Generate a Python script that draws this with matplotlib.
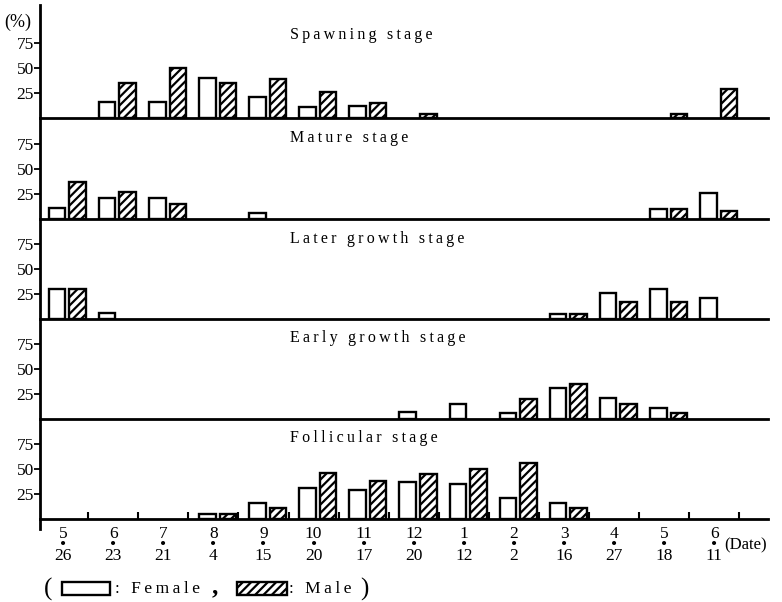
import numpy as np
import matplotlib
matplotlib.use("Agg")
import matplotlib.pyplot as plt
from matplotlib.patches import Rectangle

plt.rcParams['font.family'] = ['Liberation Serif', 'DejaVu Serif']
plt.rcParams['hatch.linewidth'] = 1.6

# sampling dates (month / day)
months = [5, 6, 7, 8, 9, 10, 11, 12, 1, 2, 3, 4, 5, 6]
days = [26, 23, 21, 4, 15, 20, 17, 20, 12, 2, 16, 27, 18, 11]

stages = ["Spawning stage", "Mature stage", "Later growth stage",
          "Early growth stage", "Follicular stage"]

# percentages per stage (female / male)
spawning_female = [0, 16, 16, 40, 21, 11, 12, 0, 0, 0, 0, 0, 0, 0]
spawning_male = [0, 35, 50, 35, 39, 26, 15, 4, 0, 0, 0, 0, 4, 29]
mature_female = [11, 21, 21, 0, 6, 0, 0, 0, 0, 0, 0, 0, 10, 26]
mature_male = [37, 27, 15, 0, 0, 0, 0, 0, 0, 0, 0, 0, 10, 8]
later_female = [30, 6, 0, 0, 0, 0, 0, 0, 0, 0, 5, 26, 30, 21]
later_male = [30, 0, 0, 0, 0, 0, 0, 0, 0, 0, 5, 17, 17, 0]
early_female = [0, 0, 0, 0, 0, 0, 0, 7, 15, 6, 31, 21, 11, 0]
early_male = [0, 0, 0, 0, 0, 0, 0, 0, 0, 20, 35, 15, 6, 0]
follicular_female = [0, 0, 0, 5, 16, 31, 29, 37, 35, 21, 16, 0, 0, 0]
follicular_male = [0, 0, 0, 5, 11, 46, 38, 45, 50, 56, 11, 0, 0, 0]

female = [spawning_female, mature_female, later_female, early_female, follicular_female]
male = [spawning_male, mature_male, later_male, early_male, follicular_male]

W, H = 782, 602
# panel extents in pixels (top, bottom)
panels_px = [(5, 118), (118, 219), (219, 319), (319, 419), (419, 519)]
title_y = [35, 138, 239, 338, 438]
AX_LEFT, AX_RIGHT = 40, 768


def spaced(s):
    # imitate the wide letter spacing of the original print
    return '\u2009'.join(s)


fig = plt.figure(figsize=(W / 100, H / 100), dpi=100)

bw = 0.33
off_f, off_m = -0.12, 0.29
x = np.arange(len(months))

axes = []
for k, (top, bot) in enumerate(panels_px):
    ax = fig.add_axes([AX_LEFT / W, (H - bot) / H,
                       (AX_RIGHT - AX_LEFT) / W, (bot - top) / H])
    axes.append(ax)

    f = np.array(female[k], dtype=float)
    m = np.array(male[k], dtype=float)
    fi = f > 0
    mi = m > 0
    ax.bar(x[fi] + off_f, f[fi], width=bw, color='white',
           edgecolor='black', linewidth=1.7)
    ax.bar(x[mi] + off_m, m[mi], width=bw, color='white',
           edgecolor='black', linewidth=1.7, hatch='////')

    ax.set_xlim(-0.46, 14.07)
    ax.set_ylim(0, bot - top)
    ax.set_yticks([25, 50, 75])
    ax.set_yticklabels(['25', '50', '75'], fontsize=12.5)
    ax.tick_params(axis='y', direction='out', length=4, width=1.3, pad=0.5)

    for sp in ('top', 'right'):
        ax.spines[sp].set_visible(False)
    ax.spines['left'].set_linewidth(2)
    ax.spines['bottom'].set_linewidth(2)
    ax.patch.set_alpha(0)

    fig.text(290 / W, 1 - title_y[k] / H, spaced(stages[k]),
             fontsize=11.5, ha='left', va='center')

    if k < len(panels_px) - 1:
        ax.set_xticks([])

# bottom axis: boundary ticks and date labels
ax = axes[-1]
ax.set_xticks(np.arange(0.5, 14, 1))
ax.set_xticklabels([])
ax.tick_params(axis='x', which='major', direction='in', length=5, width=1.5)
ax.set_xticks(x, minor=True)
ax.set_xticklabels([f"{mo}\n•\n{d}" for mo, d in zip(months, days)],
                   minor=True, fontsize=12.5, linespacing=0.6)
ax.tick_params(axis='x', which='minor', length=0, pad=5)
ax.plot([0, 0], [0, -0.1], transform=ax.transAxes, clip_on=False,
        color='black', lw=2)

fig.text(724 / W, 1 - 545 / H, "(Date)", fontsize=12,
         ha='left', va='center')
fig.text(4 / W, 1 - 22 / H, "(%)", fontsize=13, ha='left', va='center')

# legend line below the chart
ly = 589
fig.text(44 / W, 1 - ly / H, "(", fontsize=18, ha='left', va='center')
fig.add_artist(Rectangle((62 / W, 1 - 595 / H), 48 / W, 13 / H,
                         transform=fig.transFigure, facecolor='white',
                         edgecolor='black', linewidth=1.7))
fig.text(115 / W, 1 - ly / H, spaced(": Female"), fontsize=12.5,
         ha='left', va='center')
fig.text(212 / W, 1 - (ly - 2) / H, ",", fontsize=18, fontweight='bold',
         ha='left', va='center')
fig.add_artist(Rectangle((237 / W, 1 - 595 / H), 50 / W, 13 / H,
                         transform=fig.transFigure, facecolor='white',
                         edgecolor='black', linewidth=1.7, hatch='////'))
fig.text(289 / W, 1 - ly / H, spaced(": Male"), fontsize=12.5,
         ha='left', va='center')
fig.text(360 / W, 1 - ly / H, ")", fontsize=18, ha='left', va='center')

fig.savefig("out.png", dpi=100)
